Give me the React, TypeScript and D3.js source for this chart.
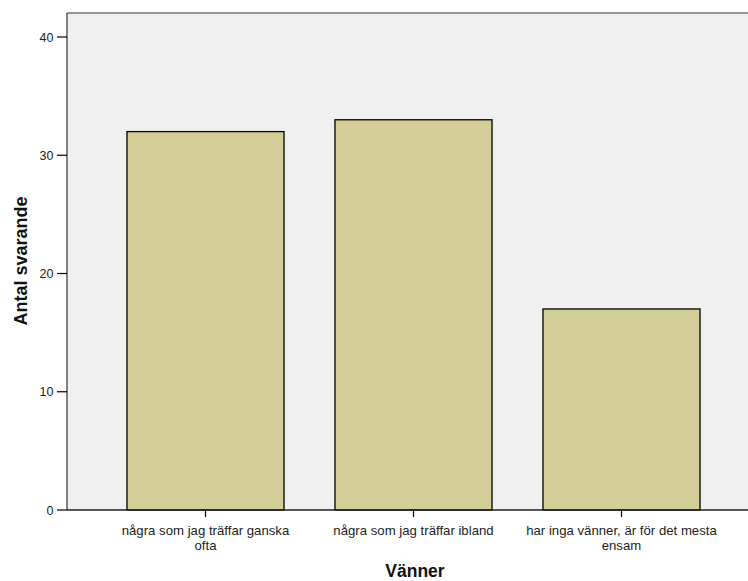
import React from "react";
import * as d3 from "d3";

const categories: string[][] = [
  ["några som jag träffar ganska", "ofta"],
  ["några som jag träffar ibland"],
  ["har inga vänner, är för det mesta", "ensam"],
];
const values: number[] = [32, 33, 17];
const yTicks: number[] = [0, 10, 20, 30, 40];

const W = 748;
const H = 581;
const left = 67;
const top = 13;
const bottom = 510;

export default function App() {
  const y = d3.scaleLinear().domain([0, 42.03]).range([bottom, top]);
  const keys = categories.map((_, i) => String(i));
  const x = d3.scalePoint<string>().domain(keys).range([101.5, 725.5]).padding(0.5);
  const step = x.step();
  const bw = step * 0.755;
  const font = "'Liberation Sans', Arial, sans-serif";
  return (
    <svg width={W} height={H} style={{ position: "absolute", left: 0, top: 0 }} fontFamily={font}>
      <rect x={0} y={0} width={W} height={H} fill="#ffffff" />
      <rect x={left} y={top} width={W - left} height={bottom - top} fill="#f0f0f0" />
      {values.map((v, i) => (
        <rect
          key={i}
          x={(x(String(i)) as number) - bw / 2}
          y={y(v)}
          width={bw}
          height={bottom - y(v)}
          fill="#d3ce98"
          stroke="#000"
          strokeWidth={1.3}
        />
      ))}
      <line x1={left} x2={W} y1={top} y2={top} stroke="#333" strokeWidth={1.2} />
      <line x1={left} x2={left} y1={top} y2={bottom} stroke="#333" strokeWidth={1.2} />
      <line x1={left} x2={W} y1={bottom} y2={bottom} stroke="#222" strokeWidth={1.5} />
      {yTicks.map((t) => (
        <g key={t}>
          <line x1={57} x2={left} y1={y(t)} y2={y(t)} stroke="#000" strokeWidth={1.2} />
          <text x={53.5} y={y(t)} dy="0.36em" textAnchor="end" fontSize={12.5} fill="#222">
            {t}
          </text>
        </g>
      ))}
      {categories.map((lines, i) => {
        const cx = x(String(i)) as number;
        return (
          <g key={i}>
            <line x1={cx} x2={cx} y1={bottom} y2={bottom + 7} stroke="#000" strokeWidth={1.2} />
            {lines.map((l, j) => (
              <text key={j} x={cx} y={535 + j * 15} textAnchor="middle" fontSize={13.2} fill="#222">
                {l}
              </text>
            ))}
          </g>
        );
      })}
      <text x={415} y={577} textAnchor="middle" fontSize={17.5} fontWeight="bold" fill="#111">
        Vänner
      </text>
      <text
        transform={`translate(26.5, 261) rotate(-90)`}
        textAnchor="middle"
        fontSize={18}
        fontWeight="bold"
        fill="#111"
      >
        Antal svarande
      </text>
    </svg>
  );
}
